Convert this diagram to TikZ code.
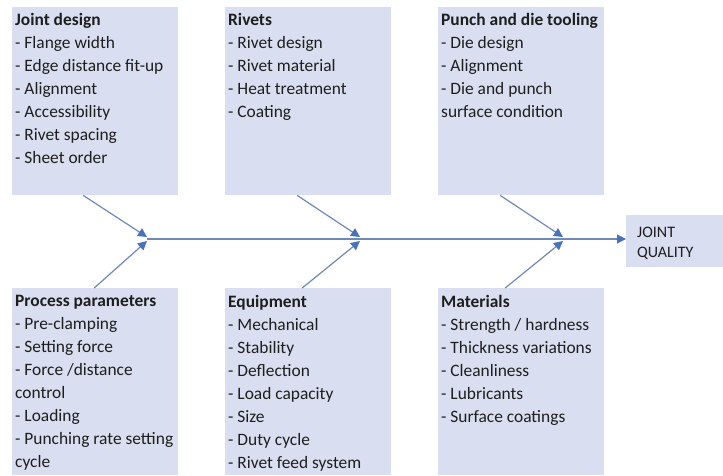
\documentclass[tikz,border=0pt]{standalone}
\usepackage{fontspec}
\setmainfont{Carlito}
\usetikzlibrary{arrows.meta}
\definecolor{boxfill}{HTML}{D9DFF0}
\definecolor{boneline}{HTML}{7088B4}
\definecolor{tipblue}{HTML}{4A72B8}
\definecolor{inktext}{HTML}{1E1E1E}
\begin{document}
\begin{tikzpicture}[x=1pt,y=-1pt,
  catbox/.style={fill=boxfill, draw=none, anchor=north west, inner sep=0pt,
    minimum width=166pt, minimum height=188pt},
  cattext/.style={anchor=north west, inner sep=0pt, align=left, text=inktext,
    font=\fontsize{17.4}{23}\selectfont},
  bone/.style={draw=boneline, line width=1.2pt,
    -{Triangle[length=9pt,width=9pt,fill=tipblue,color=tipblue]}},
]
\useasboundingbox (0,0) rectangle (723,475);

% cause categories, upper row
\node[catbox] (jd) at (12,7) {};
\node[catbox] (rv) at (225,7) {};
\node[catbox] (pd) at (438,7) {};
% cause categories, lower row
\node[catbox, minimum height=187pt] (pp) at (12,288) {};
\node[catbox, minimum height=187pt] (eq) at (225,288) {};
\node[catbox, minimum height=187pt] (ma) at (438,288) {};
% effect
\node[fill=boxfill, anchor=north west, inner sep=0pt, minimum width=100pt,
  minimum height=52pt] (jq) at (626,215) {};

\node[cattext] (jdt) at (15,13) {\textbf{Joint design}\\- Flange width\\- Edge distance fit-up\\- Alignment\\- Accessibility\\- Rivet spacing\\- Sheet order};
\node[cattext] (rvt) at (228,13) {\textbf{Rivets}\\- Rivet design\\- Rivet material\\- Heat treatment\\- Coating};
\node[cattext] (pdt) at (441,13) {\textbf{Punch and die tooling}\\- Die design\\- Alignment\\- Die and punch\\surface condition};
\node[cattext] (ppt) at (15,295) {\textbf{Process parameters}\\- Pre-clamping\\- Setting force\\- Force /distance\\control\\- Loading\\- Punching rate setting\\cycle};
\node[cattext] (eqt) at (228,295) {\textbf{Equipment}\\- Mechanical\\- Stability\\- Deflection\\- Load capacity\\- Size\\- Duty cycle\\- Rivet feed system};
\node[cattext] (mat) at (441,295) {\textbf{Materials}\\- Strength / hardness\\- Thickness variations\\- Cleanliness\\- Lubricants\\- Surface coatings};
\node[anchor=north west, inner sep=0pt, align=left, text=inktext,
  font=\fontsize{16}{20}\selectfont] (jqt) at (637,227) {JOINT\\QUALITY};

% junctions on the spine
\coordinate (j1) at (147,239);
\coordinate (j2) at (360,239);
\coordinate (j3) at (563,239);

% spine
\draw[bone] (j1) -- (j1 -| jq.west);

% ribs
\draw[bone] ([xshift=-12pt]jd.south) -- ([yshift=2pt]j1);
\draw[bone] ([xshift=-1pt]pp.north) -- ([yshift=-2pt]j1);
\draw[bone] ([xshift=-11pt]rv.south) -- ([yshift=2pt]j2);
\draw[bone] ([xshift=-6pt]eq.north) -- ([yshift=-2pt]j2);
\draw[bone] ([xshift=-21pt]pd.south) -- ([yshift=2pt]j3);
\draw[bone] ([xshift=-16pt]ma.north) -- ([yshift=-2pt]j3);
\end{tikzpicture}
\end{document}
